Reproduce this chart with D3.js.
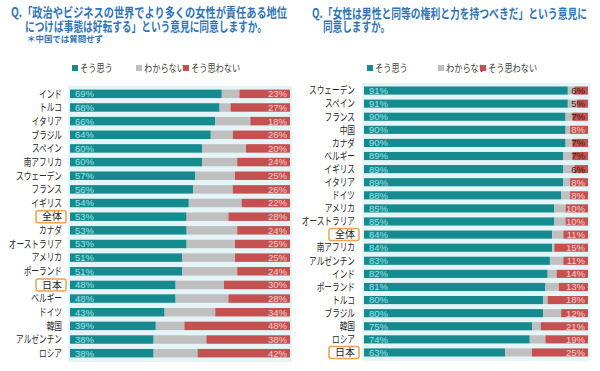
<!DOCTYPE html>
<html>
<head>
<meta charset="utf-8">
<script src="https://cdn.jsdelivr.net/npm/d3@7"></script>
<style>
  body { margin:0; background:#fff; }
  svg { display:block; font-family:"Noto Sans CJK JP","Noto Sans",sans-serif; }
</style>
</head>
<body>
<div id="chart"></div>
<script>
////////////////////////////////////////////////////
// data (percent)
////////////////////////////////////////////////////
var leftCountries = ["インド","トルコ","イタリア","ブラジル","スペイン","南アフリカ","スウェーデン","フランス","イギリス","全体","カナダ","オーストラリア","アメリカ","ポーランド","日本","ベルギー","ドイツ","韓国","アルゼンチン","ロシア"];
var leftAgree    = [69,68,66,64,60,60,57,56,54,53,53,53,51,51,48,48,43,39,38,38];
var leftDisagree = [23,27,18,26,20,24,25,26,22,28,24,25,25,24,30,28,34,48,38,42];

var rightCountries = ["スウェーデン","スペイン","フランス","中国","カナダ","ベルギー","イギリス","イタリア","ドイツ","アメリカ","オーストラリア","全体","南アフリカ","アルゼンチン","インド","ポーランド","トルコ","ブラジル","韓国","ロシア","日本"];
var rightAgree    = [91,91,90,90,90,89,89,89,88,85,85,84,84,83,82,81,80,80,75,74,63];
var rightDisagree = [6,5,7,8,7,7,6,8,8,10,10,11,15,11,14,13,18,12,21,19,25];

var legendLabels = ["そう思う","わからない","そう思わない"];
var highlighted = ["全体","日本"];

var colAgree = "#158b8f", colUnknown = "#bfbfbf", colDisagree = "#c4514f";

var svg = d3.select("#chart").append("svg")
	.attr("width", 600)
	.attr("height", 371);

// narrow the wide CJK glyphs a bit, like the proportional font of the original
function squeeze(sel, factor) {
	sel.each(function(){
		var f = typeof factor === "function" ? factor(d3.select(this).datum()) : factor;
		var w = this.getComputedTextLength();
		d3.select(this).attr("textLength", w*f).attr("lengthAdjust", "spacingAndGlyphs");
	});
}

////////////////////////////////////////////////////
function buildPanel(cfg) {
	var rows = cfg.countries.map(function(c,i){
		return {name:c, agree:cfg.agree[i], disagree:cfg.disagree[i], unknown:100-cfg.agree[i]-cfg.disagree[i]};
	});

	var x = d3.scaleLinear().domain([0,100]).range([cfg.x0, cfg.x1]);
	var y = d3.scaleBand().domain(cfg.countries).range([cfg.y0, cfg.y1]).paddingInner(0.38).paddingOuter(0.19);

	var g = svg.append("g");

	// plot background
	g.append("rect")
		.attr("x", cfg.x0-2)
		.attr("y", cfg.y0-1)
		.attr("width", cfg.x1-cfg.x0+4)
		.attr("height", cfg.y1-cfg.y0+3)
		.attr("fill", "#e5f4f7");

	// titles
	cfg.title.forEach(function(t){
		g.append("text")
			.attr("x", t.x).attr("y", t.y)
			.attr("font-size", t.size)
			.attr("font-weight", "bold")
			.attr("fill", "#3074b6")
			.attr("textLength", t.len)
			.attr("lengthAdjust", "spacingAndGlyphs")
			.text(t.text);
	});

	// legend
	var cols = [colAgree, colUnknown, colDisagree];
	legendLabels.forEach(function(l,i){
		g.append("rect")
			.attr("x", cfg.legendX[i]).attr("y", 65)
			.attr("width", 6).attr("height", 6)
			.attr("fill", cols[i]);
		g.append("text")
			.attr("class", "leg")
			.attr("x", cfg.legendX[i]+8).attr("y", 72)
			.attr("font-size", 10.5)
			.attr("fill", "#404040")
			.text(l);
	});
	squeeze(g.selectAll(".leg"), 0.78);

	var row = g.selectAll(".row").data(rows).enter().append("g")
		.attr("transform", function(d){ return "translate(0,"+y(d.name)+")"; });

	row.append("rect")
		.attr("x", x(0))
		.attr("width", function(d){ return x(d.agree)-x(0); })
		.attr("height", y.bandwidth())
		.attr("fill", colAgree);
	row.append("rect")
		.attr("x", function(d){ return x(d.agree); })
		.attr("width", function(d){ return x(d.unknown)-x(0); })
		.attr("height", y.bandwidth())
		.attr("fill", colUnknown);
	row.append("rect")
		.attr("x", function(d){ return x(100-d.disagree); })
		.attr("width", function(d){ return x(d.disagree)-x(0); })
		.attr("height", y.bandwidth())
		.attr("fill", colDisagree);

	// value labels
	row.append("text")
		.attr("x", x(0)+5)
		.attr("y", y.bandwidth()/2)
		.attr("dy", "0.36em")
		.attr("font-size", 9.5)
		.attr("font-family", "'Liberation Sans',sans-serif")
		.attr("fill", "#9fe3e8")
		.text(function(d){ return d.agree+"%"; });
	row.append("text")
		.attr("x", x(100)-3)
		.attr("y", y.bandwidth()/2)
		.attr("dy", "0.36em")
		.attr("text-anchor", "end")
		.attr("font-size", 9.5)
		.attr("font-family", "'Liberation Sans',sans-serif")
		.attr("fill", function(d){ return d.disagree < 8 ? "#3a2020" : "#f6cfcf"; })
		.text(function(d){ return d.disagree+"%"; });

	// country names
	var names = row.append("text")
		.attr("x", cfg.labelX)
		.attr("y", y.bandwidth()/2)
		.attr("dy", "0.36em")
		.attr("text-anchor", "end")
		.attr("font-size", 10.5)
		.attr("fill", "#262626")
		.text(function(d){ return d.name; });
	squeeze(names, function(d){ return highlighted.indexOf(d.name) >= 0 ? 0.95 : 0.73; });

	// highlight boxes
	row.filter(function(d){ return highlighted.indexOf(d.name) >= 0; })
		.append("rect")
		.attr("x", cfg.labelX-26)
		.attr("y", y.bandwidth()/2-6)
		.attr("width", 30)
		.attr("height", 12)
		.attr("rx", 2)
		.attr("fill", "none")
		.attr("stroke", "#f0a04b")
		.attr("stroke-width", 1.5);
}

buildPanel({
	countries:leftCountries, agree:leftAgree, disagree:leftDisagree,
	x0:70, x1:290, y0:87, y1:360, labelX:62,
	legendX:[72,136,183],
	title:[
		{text:"Q.「政治やビジネスの世界でより多くの女性が責任ある地位", x:11, y:17, size:13, len:276},
		{text:"につけば事態は好転する」という意見に同意しますか。", x:25, y:31, size:13, len:242},
		{text:"＊中国では質問せず", x:27, y:42, size:8.5, len:76}
	]
});

buildPanel({
	countries:rightCountries, agree:rightAgree, disagree:rightDisagree,
	x0:364, x1:588, y0:84, y1:359, labelX:355,
	legendX:[367,438,480],
	title:[
		{text:"Q.「女性は男性と同等の権利と力を持つべきだ」という意見に", x:312, y:18, size:13, len:275},
		{text:"同意しますか。", x:323, y:30.5, size:13, len:67}
	]
});
</script>
</body>
</html>
